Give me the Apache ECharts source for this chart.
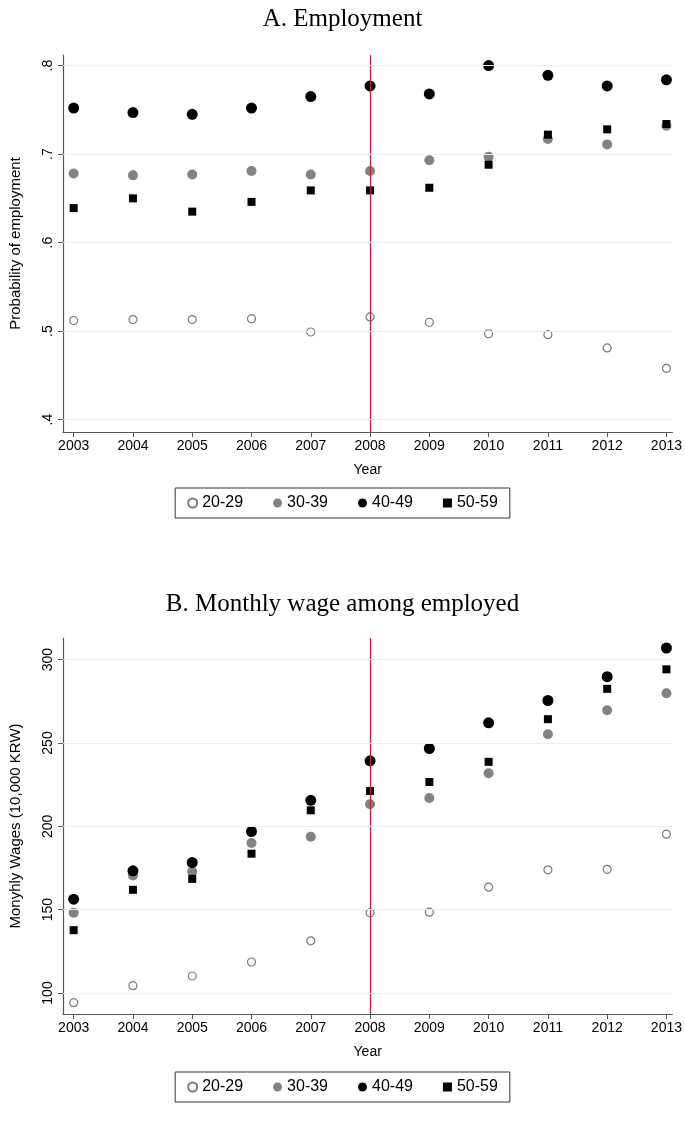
<!DOCTYPE html>
<html>
<head>
<meta charset="utf-8">
<script src="https://cdn.jsdelivr.net/npm/echarts@6/dist/echarts.min.js"></script>
<style>
  html, body { margin: 0; padding: 0; background: #fff; }
  #chart { width: 685px; height: 1126px; }
</style>
</head>
<body>
<div id="chart"></div>
<script>
var years = [2003, 2004, 2005, 2006, 2007, 2008, 2009, 2010, 2011, 2012, 2013];
var groups = ["20-29", "30-39", "40-49", "50-59"];

// A. probability of employment
var emp2029 = [0.512, 0.513, 0.513, 0.514, 0.499, 0.516, 0.510, 0.497, 0.496, 0.481, 0.458];
var emp3039 = [0.678, 0.676, 0.677, 0.681, 0.677, 0.681, 0.693, 0.697, 0.717, 0.711, 0.732];
var emp4049 = [0.752, 0.747, 0.745, 0.752, 0.765, 0.777, 0.768, 0.800, 0.789, 0.777, 0.784];
var emp5059 = [0.639, 0.650, 0.635, 0.646, 0.659, 0.659, 0.662, 0.688, 0.722, 0.728, 0.734];

// B. monthly wages (10,000 KRW)
var wage2029 = [94.2, 104.4, 110.2, 118.6, 131.3, 148.1, 148.5, 163.5, 173.9, 174.2, 195.3];
var wage3039 = [148.1, 170.5, 172.7, 190.0, 193.8, 213.2, 217.0, 231.9, 255.3, 269.7, 279.8];
var wage4049 = [156.3, 173.3, 178.3, 196.9, 215.6, 239.3, 246.7, 262.1, 275.5, 289.8, 307.0];
var wage5059 = [137.7, 161.9, 168.5, 183.6, 209.6, 221.2, 226.6, 238.7, 264.3, 282.5, 294.2];

var font = "Liberation Sans";
var markerStyles = [
    {symbol: "circle", size: 8, itemStyle: {color: "#fff", borderColor: "#7a7a7a", borderWidth: 1.2, opacity: 1}},
    {symbol: "circle", size: 10, itemStyle: {color: "#828282", opacity: 1}},
    {symbol: "circle", size: 11, itemStyle: {color: "#000", opacity: 1}},
    {symbol: "rect", size: 8, itemStyle: {color: "#000", opacity: 1}}
];

function pairs(vals) {
    return years.map(function (y, i) { return [y, vals[i]]; });
}

function makeSeries(idx, lists) {
    return lists.map(function (vals, k) {
        var m = markerStyles[k];
        var s = {
            type: "scatter", name: groups[k], xAxisIndex: idx, yAxisIndex: idx,
            symbol: m.symbol, symbolSize: m.size, itemStyle: m.itemStyle,
            data: pairs(vals), z: 3
        };
        if (k === 0) {
            s.markLine = {
                silent: true, symbol: "none", label: {show: false},
                lineStyle: {color: "#c8163f", width: 1.2, type: "solid", opacity: 1},
                data: [{xAxis: 2008}]
            };
        }
        return s;
    });
}

function xAxis(idx) {
    return {
        type: "value", gridIndex: idx, min: 2002.82, max: 2013.1,
        name: "Year", nameLocation: "middle", nameGap: 31,
        nameTextStyle: {fontFamily: font, fontSize: 14, color: "#000"},
        axisLine: {lineStyle: {color: "#555", width: 1.2}},
        axisTick: {show: true, length: 5, lineStyle: {color: "#555"}, customValues: years},
        axisLabel: {
            fontFamily: font, fontSize: 14, color: "#000", margin: 7,
            customValues: years, formatter: function (v) { return String(v); }
        },
        splitLine: {show: false}
    };
}

function legend(top) {
    return {data: groups, top: top, left: "center", orient: "horizontal",
        itemWidth: 9, itemHeight: 9, itemGap: 30, padding: [7, 12],
        borderColor: "#333", borderWidth: 1,
        textStyle: {fontFamily: font, fontSize: 16, color: "#000"}};
}

var chart = echarts.init(document.getElementById("chart"));

chart.setOption({
    animation: false,
    title: [
        {text: "A. Employment", left: "center", top: 2,
            textStyle: {fontFamily: "Liberation Serif", fontSize: 25, fontWeight: "normal", color: "#000"}},
        {text: "B. Monthly wage among employed", left: "center", top: 587,
            textStyle: {fontFamily: "Liberation Serif", fontSize: 25, fontWeight: "normal", color: "#000"}}
    ],
    grid: [
        {left: 61, right: 8, top: 55, height: 377},
        {left: 61, right: 8, top: 638, height: 376}
    ],
    legend: [legend(488), legend(1072)],
    xAxis: [xAxis(0), xAxis(1)],
    yAxis: [
        {
            type: "value", gridIndex: 0, min: 0.386, max: 0.812,
            name: "Probability of employment", nameLocation: "middle", nameGap: 40,
            nameTextStyle: {fontFamily: font, fontSize: 15, color: "#000"},
            axisLine: {show: true, lineStyle: {color: "#555", width: 1.2}},
            axisTick: {show: true, length: 5, lineStyle: {color: "#555"}, customValues: [0.4, 0.5, 0.6, 0.7, 0.8]},
            axisLabel: {
                rotate: 90, fontFamily: font, fontSize: 14, color: "#000", margin: 8,
                customValues: [0.4, 0.5, 0.6, 0.7, 0.8],
                formatter: function (v) { return "." + Math.round(v * 10); }
            },
            splitLine: {show: false}
        },
        {
            type: "value", gridIndex: 1, min: 87.4, max: 313,
            name: "Monyhly Wages (10,000 KRW)", nameLocation: "middle", nameGap: 40,
            nameTextStyle: {fontFamily: font, fontSize: 15, color: "#000"},
            axisLine: {show: true, lineStyle: {color: "#555", width: 1.2}},
            axisTick: {show: true, length: 5, lineStyle: {color: "#555"}, customValues: [100, 150, 200, 250, 300]},
            axisLabel: {
                rotate: 90, fontFamily: font, fontSize: 14, color: "#000", margin: 8,
                customValues: [100, 150, 200, 250, 300]
            },
            splitLine: {show: false}
        }
    ],
    series: makeSeries(0, [emp2029, emp3039, emp4049, emp5059])
        .concat(makeSeries(1, [wage2029, wage3039, wage4049, wage5059]))
        .concat([
            // horizontal grid lines at the tick values
            {type: "line", xAxisIndex: 0, yAxisIndex: 0, data: [], silent: true,
                markLine: {silent: true, symbol: "none", label: {show: false},
                    lineStyle: {color: "#e6eff2", width: 1, type: "solid"},
                    data: [0.4, 0.5, 0.6, 0.7, 0.8].map(function (v) { return {yAxis: v}; })}, z: 1},
            {type: "line", xAxisIndex: 1, yAxisIndex: 1, data: [], silent: true,
                markLine: {silent: true, symbol: "none", label: {show: false},
                    lineStyle: {color: "#e6eff2", width: 1, type: "solid"},
                    data: [100, 150, 200, 250, 300].map(function (v) { return {yAxis: v}; })}, z: 1}
        ])
});
</script>
</body>
</html>
